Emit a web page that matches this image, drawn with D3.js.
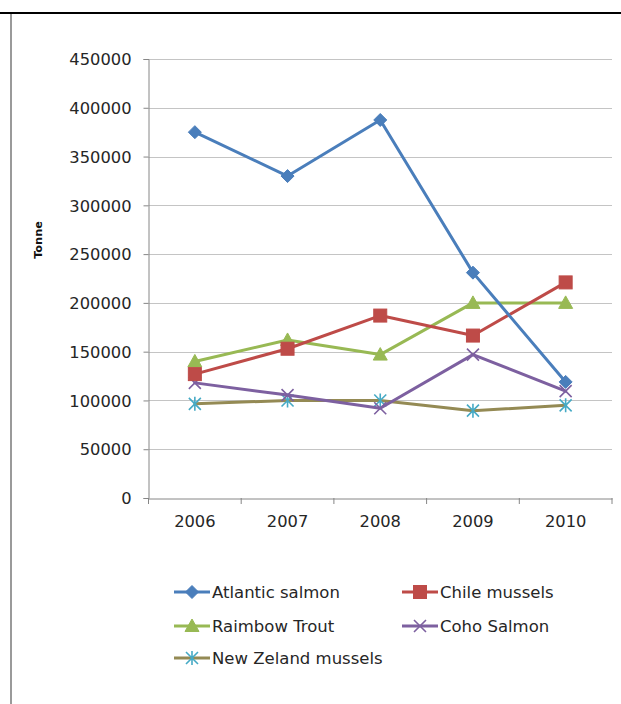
<!DOCTYPE html>
<html>
<head>
<meta charset="utf-8">
<script src="https://cdn.jsdelivr.net/npm/d3@7"></script>
<style>
  html, body { margin: 0; padding: 0; background: #fff; }
  svg { display: block; }
</style>
</head>
<body>
<svg id="chart" width="621" height="704"></svg>
<script>
// Aquaculture production by species, tonnes per year
const years = ["2006", "2007", "2008", "2009", "2010"];
const atlanticSalmon = [375000, 330000, 387500, 231000, 119000];
const chileMussels = [127000, 153000, 187000, 166500, 221000];
const rainbowTrout = [140000, 162000, 147000, 200000, 200000];
const cohoSalmon = [118000, 105500, 92000, 147000, 109500];
const nzMussels = [96500, 100000, 100000, 89500, 95000];
const yTicks = [0, 50000, 100000, 150000, 200000, 250000, 300000, 350000, 400000, 450000];

const seriesList = [
  { name: "Atlantic salmon", values: atlanticSalmon, line: "#4A7EBB", marker: "#4A7EBB", shape: "diamond" },
  { name: "Chile mussels", values: chileMussels, line: "#BE4B48", marker: "#BE4B48", shape: "square" },
  { name: "Raimbow Trout", values: rainbowTrout, line: "#98B954", marker: "#98B954", shape: "triangle" },
  { name: "Coho Salmon", values: cohoSalmon, line: "#7D60A0", marker: "#7D60A0", shape: "x" },
  { name: "New Zeland mussels", values: nzMussels, line: "#948A54", marker: "#46AAC5", shape: "star" }
];

const svg = d3.select("#chart");
const font = "'DejaVu Sans', sans-serif";

// Frame: top rule and left rule
svg.append("line").attr("x1", 0).attr("x2", 621).attr("y1", 13).attr("y2", 13)
  .attr("stroke", "#000").attr("stroke-width", 2);
svg.append("line").attr("x1", 11).attr("x2", 11).attr("y1", 14).attr("y2", 704)
  .attr("stroke", "#9a9a9a").attr("stroke-width", 2);

const plot = { left: 148.5, right: 612, top: 59, bottom: 498 };

const x = d3.scaleBand().domain(years).range([plot.left, plot.right]);
const y = d3.scaleLinear().domain([0, 450000]).range([plot.bottom, plot.top]);

// Gridlines
svg.append("g").selectAll("line").data(yTicks.filter(d => d > 0)).join("line")
  .attr("x1", plot.left).attr("x2", plot.right)
  .attr("y1", d => Math.round(y(d)) + 0.5).attr("y2", d => Math.round(y(d)) + 0.5)
  .attr("stroke", "#c4c4c4").attr("stroke-width", 1.2);

// Y axis
const yAxis = svg.append("g").attr("transform", `translate(${plot.left},0)`)
  .call(d3.axisLeft(y).tickValues(yTicks).tickFormat(d3.format("d")).tickSize(5).tickPadding(12));
yAxis.select(".domain").attr("stroke", "#868686");
yAxis.selectAll(".tick line").attr("stroke", "#868686");
yAxis.selectAll(".tick text").attr("font-family", font).attr("font-size", 16.3).attr("fill", "#262626")
  .attr("dy", "0.35em");

// X axis
const xAxis = svg.append("g").attr("transform", `translate(0,${plot.bottom + 0.5})`)
  .call(d3.axisBottom(x).tickSize(0).tickPadding(17));
xAxis.select(".domain").attr("stroke", "#868686");
xAxis.selectAll(".tick text").attr("font-family", font).attr("font-size", 16.3).attr("fill", "#262626");
// Category separators
const edges = years.map(d => x(d)).concat([x.range()[1]]);
svg.append("g").selectAll("line").data(edges).join("line")
  .attr("x1", d => d).attr("x2", d => d)
  .attr("y1", plot.bottom).attr("y2", plot.bottom + 6)
  .attr("stroke", "#868686");

// Axis title
svg.append("text").attr("transform", "translate(42,240) rotate(-90)")
  .attr("text-anchor", "middle").attr("font-family", font).attr("font-size", 11.3)
  .attr("font-weight", "bold").attr("fill", "#111").text("Tonne");

// Marker drawing
function drawMarker(g, shape, color, cx, cy) {
  if (shape === "diamond") {
    g.append("path").attr("d", `M${cx},${cy - 6.5}L${cx + 6.5},${cy}L${cx},${cy + 6.5}L${cx - 6.5},${cy}Z`)
      .attr("fill", color).attr("stroke", color).attr("stroke-width", 1);
  } else if (shape === "square") {
    g.append("rect").attr("x", cx - 6.5).attr("y", cy - 6.5).attr("width", 13).attr("height", 13)
      .attr("fill", color).attr("stroke", color).attr("stroke-width", 1);
  } else if (shape === "triangle") {
    g.append("path").attr("d", `M${cx},${cy - 7}L${cx + 7},${cy + 5.5}L${cx - 7},${cy + 5.5}Z`)
      .attr("fill", color).attr("stroke", color).attr("stroke-width", 1);
  } else if (shape === "x") {
    g.append("path").attr("d", `M${cx - 6},${cy - 6}L${cx + 6},${cy + 6}M${cx - 6},${cy + 6}L${cx + 6},${cy - 6}`)
      .attr("stroke", color).attr("stroke-width", 1.6).attr("fill", "none");
  } else if (shape === "star") {
    g.append("path").attr("d", `M${cx - 6},${cy - 6}L${cx + 6},${cy + 6}M${cx - 6},${cy + 6}L${cx + 6},${cy - 6}M${cx},${cy - 7}L${cx},${cy + 7}`)
      .attr("stroke", color).attr("stroke-width", 1.6).attr("fill", "none");
  }
}

const line = d3.line().x((d, i) => x(years[i]) + x.bandwidth() / 2).y(d => y(d));

// Draw series in reverse so the first series sits on top
[...seriesList].reverse().forEach(s => {
  const g = svg.append("g");
  g.append("path").datum(s.values).attr("d", line)
    .attr("fill", "none").attr("stroke", s.line).attr("stroke-width", 3)
    .attr("stroke-linejoin", "round").attr("stroke-linecap", "round");
  s.values.forEach((v, i) => {
    drawMarker(g, s.shape, s.marker, x(years[i]) + x.bandwidth() / 2, y(v));
  });
});

// Legend
const legendPos = [
  { x: 174, y: 592 }, { x: 402, y: 592 },
  { x: 174, y: 626 }, { x: 402, y: 626 },
  { x: 174, y: 658 }
];
seriesList.forEach((s, i) => {
  const p = legendPos[i];
  const g = svg.append("g");
  g.append("line").attr("x1", p.x).attr("x2", p.x + 36).attr("y1", p.y).attr("y2", p.y)
    .attr("stroke", s.line).attr("stroke-width", 3);
  drawMarker(g, s.shape, s.marker, p.x + 18, p.y);
  g.append("text").attr("x", p.x + 38).attr("y", p.y).attr("dy", "0.36em")
    .attr("font-family", font).attr("font-size", 16.5).attr("fill", "#262626").text(s.name);
});
</script>
</body>
</html>
